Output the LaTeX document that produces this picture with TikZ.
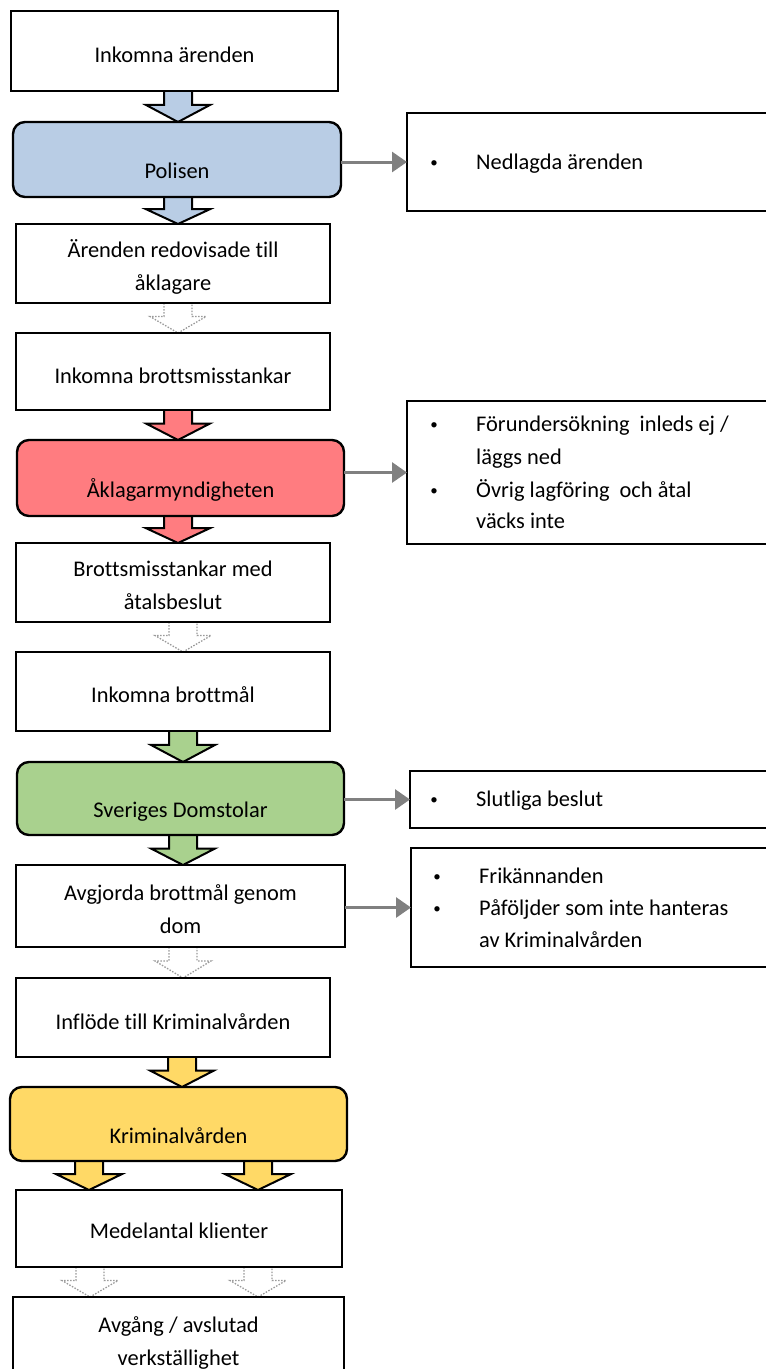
\documentclass[tikz,border=0pt]{standalone}
\usepackage{fontspec}
\setmainfont{Carlito}[Ligatures=NoCommon]
\usetikzlibrary{arrows.meta,calc}
\pgfdeclarelayer{bg}
\pgfsetlayers{bg,main}
\definecolor{cblue}{HTML}{B9CDE5}
\definecolor{cred}{HTML}{FF7C80}
\definecolor{cgreen}{HTML}{A9D18E}
\definecolor{cyellow}{HTML}{FFD966}
\definecolor{cgray}{HTML}{808080}
\definecolor{cdot}{HTML}{9A9A9A}
% #1 style, #2 x centre, #3 upper node, #4 lower node, #5 shaft half width, #6 head half width
\newcommand\blockarrow[6]{%
  \path[#1] let \p1=(#3.south), \p2=(#4.north), \n1={\y1+0.45*(\y2-\y1)} in
    (#2-#5,\y1) -- (#2-#5,\n1) -- (#2-#6,\n1) -- (#2,\y2) -- (#2+#6,\n1) -- (#2+#5,\n1) -- (#2+#5,\y1);}
\begin{document}
\begin{tikzpicture}[x=1pt,y=1pt,
  txt/.style={font=\fontsize{22.4}{33}\selectfont, align=center, inner sep=0pt},
  box/.style={draw, line width=2.4pt, inner sep=0pt, outer sep=0pt, anchor=north west, fill=white, txt},
  rbox/.style={box, rounded corners=12pt},
  bul/.style={font=\fontsize{15}{33}\selectfont, inner sep=0pt, anchor=base},
  conn/.style={draw=cgray, line width=3pt, -{Triangle[length=15pt,width=20pt]}},
  solidarr/.style={draw=black, line width=2pt, line join=miter, fill=#1},
  dotarr/.style={draw=cdot, line width=1.3pt, dash pattern=on 1.5pt off 1.5pt, fill=white},
]
\useasboundingbox (0,0) rectangle (766,-1369);

% left column
\node[box, minimum width=327pt, minimum height=80pt] (n1) at (11,-11) {};
\node[txt] (t1) at ($(n1.center)+(0,-4)$) {Inkomna ärenden};
\node[rbox, fill=cblue, minimum width=328pt, minimum height=75pt] (n2) at (13,-122) {};
\node[txt] (t2) at ($(n2.center)+(0,-11)$) {Polisen};
\node[box, minimum width=314pt, minimum height=79pt] (n3) at (16,-224) {};
\node[txt] (t3) at ($(n3.center)+(0,-3)$) {Ärenden redovisade till\\åklagare};
\node[box, minimum width=314pt, minimum height=77pt] (n4) at (16,-333) {};
\node[txt] (t4) at ($(n4.center)+(0,-4)$) {Inkomna brottsmisstankar};
\node[rbox, fill=cred, minimum width=327pt, minimum height=76pt] (n5) at (17,-440) {};
\node[txt] (t5) at ($(n5.center)+(0,-12)$) {Åklagarmyndigheten};
\node[box, minimum width=314pt, minimum height=79pt] (n6) at (16,-543) {};
\node[txt] (t6) at ($(n6.center)+(0,-3)$) {Brottsmisstankar med\\åtalsbeslut};
\node[box, minimum width=314pt, minimum height=79pt] (n7) at (16,-652) {};
\node[txt] (t7) at ($(n7.center)+(0,-3)$) {Inkomna brottmål};
\node[rbox, fill=cgreen, minimum width=327pt, minimum height=73pt] (n8) at (17,-762) {};
\node[txt] (t8) at ($(n8.center)+(0,-13)$) {Sveriges Domstolar};
\node[box, minimum width=329pt, minimum height=82pt] (n9) at (16,-865) {};
\node[txt] (t9) at ($(n9.center)+(0,-3)$) {Avgjorda brottmål genom\\dom};
\node[box, minimum width=314pt, minimum height=79pt] (n10) at (16,-978) {};
\node[txt] (t10) at ($(n10.center)+(0,-4)$) {Inflöde till Kriminalvården};
\node[rbox, fill=cyellow, minimum width=337pt, minimum height=74pt] (n11) at (10,-1087) {};
\node[txt] (t11) at ($(n11.center)+(0,-12)$) {Kriminalvården};
\node[box, minimum width=326pt, minimum height=77pt] (n12) at (16,-1190) {};
\node[txt] (t12) at ($(n12.center)+(0,-2)$) {Medelantal klienter};
\node[box, minimum width=331pt, minimum height=90pt] (n13) at (13,-1297) {};
\node[txt] (t13) at ($(n13.center)+(0,-1)$) {Avgång / avslutad\\verkställighet};

% right column
\node[box, minimum width=380pt, minimum height=98pt] (r1) at (407,-113) {};
\node[box, minimum width=380pt, minimum height=143pt] (r2) at (407,-401) {};
\node[box, minimum width=380pt, minimum height=57pt] (r3) at (410,-771) {};
\node[box, minimum width=380pt, minimum height=119pt] (r4) at (411,-848) {};

\node[bul] (r1b) at (434,-167) {•};
\node[txt, anchor=base west] (r1t) at (476,-169) {Nedlagda ärenden};

\node[bul] (r2b1) at (434,-429) {•};
\node[txt, anchor=base west] (r2t1) at (476,-431) {Förundersökning\ \ inleds ej /};
\node[txt, anchor=base west] (r2t2) at (476,-464) {läggs ned};
\node[bul] (r2b2) at (434,-495) {•};
\node[txt, anchor=base west] (r2t3) at (476,-497) {Övrig lagföring\ \ och åtal};
\node[txt, anchor=base west] (r2t4) at (476,-528) {väcks inte};

\node[bul] (r3b) at (434,-804) {•};
\node[txt, anchor=base west] (r3t) at (476,-806) {Slutliga beslut};

\node[bul] (r4b1) at (437,-881) {•};
\node[txt, anchor=base west] (r4t1) at (479,-883) {Frikännanden};
\node[bul] (r4b2) at (437,-913) {•};
\node[txt, anchor=base west] (r4t2) at (479,-915) {Påföljder som inte hanteras};
\node[txt, anchor=base west] (r4t3) at (479,-947) {av Kriminalvården};

% grey connectors
\draw[conn] (n2.east |- r1.west) -- (r1.west);
\draw[conn] (n5.east |- r2.west) -- (r2.west);
\draw[conn] (n8.east |- r3.west) -- (r3.west);
\draw[conn] (n9.east |- r4.west) -- (r4.west);

% block arrows
\begin{pgfonlayer}{bg}
\blockarrow{solidarr=cblue}{178}{n1}{n2}{14}{32}
\blockarrow{solidarr=cblue}{178}{n2}{n3}{14}{32}
\blockarrow{dotarr}{178}{n3}{n4}{14}{28}
\blockarrow{solidarr=cred}{178}{n4}{n5}{14}{32}
\blockarrow{solidarr=cred}{178}{n5}{n6}{14}{32}
\blockarrow{dotarr}{183}{n6}{n7}{14}{28}
\blockarrow{solidarr=cgreen}{183}{n7}{n8}{14}{32}
\blockarrow{solidarr=cgreen}{183}{n8}{n9}{14}{32}
\blockarrow{dotarr}{183}{n9}{n10}{14}{28}
\blockarrow{solidarr=cyellow}{182}{n10}{n11}{14}{32}
\blockarrow{solidarr=cyellow}{89}{n11}{n12}{14}{33}
\blockarrow{solidarr=cyellow}{258}{n11}{n12}{14}{33}
\blockarrow{dotarr}{90}{n12}{n13}{14}{28}
\blockarrow{dotarr}{258}{n12}{n13}{14}{28}
\end{pgfonlayer}
\end{tikzpicture}
\end{document}
